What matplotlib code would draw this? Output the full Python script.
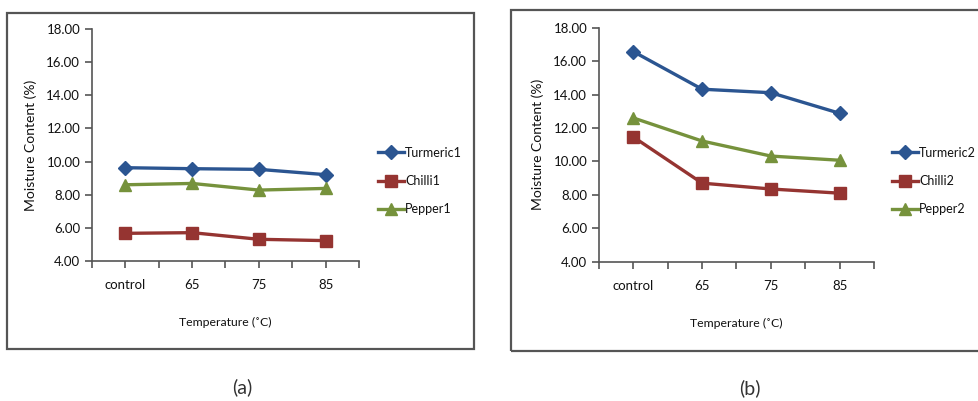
import matplotlib.pyplot as plt
import matplotlib.patches as patches

# --- data ---
categories = ["control", "65", "75", "85"]

turmeric1 = [9.63, 9.57, 9.53, 9.21]
chilli1 = [5.67, 5.71, 5.31, 5.23]
pepper1 = [8.60, 8.68, 8.28, 8.38]

turmeric2 = [16.57, 14.32, 14.11, 12.88]
chilli2 = [11.46, 8.70, 8.35, 8.10]
pepper2 = [12.60, 11.22, 10.32, 10.07]

yticks = [4, 6, 8, 10, 12, 14, 16, 18]

blue = "#2B5591"
red = "#953431"
green = "#76923C"
txt = "#111111"

plt.rcParams["font.family"] = ["Lato", "DejaVu Sans"]

W, H = 979, 401
fig = plt.figure(figsize=(W / 100, H / 100), dpi=100)


def px_axes(left, top, right, bottom):
    return fig.add_axes([left / W, 1 - bottom / H, (right - left) / W, (bottom - top) / H])


def draw_panel(ax, series, names, leg_x):
    x = range(len(categories))
    styles = [(blue, "D", 7), (red, "s", 8), (green, "^", 8.5)]
    for vals, name, (c, m, ms) in zip(series, names, styles):
        ax.plot(x, vals, color=c, lw=2.4, marker=m, ms=ms, mec=c, mfc=c, label=name)
    ax.set_xlim(-0.5, 3.5)
    ax.set_ylim(4, 18)
    ax.set_yticks(yticks)
    ax.set_yticklabels(["%.2f" % v for v in yticks])
    ax.set_xticks(list(x))
    ax.set_xticklabels(categories)
    ax.set_xticks([-0.5, 0.5, 1.5, 2.5, 3.5], minor=True)
    for s in ["top", "right"]:
        ax.spines[s].set_visible(False)
    for s in ["left", "bottom"]:
        ax.spines[s].set_color("#555555")
        ax.spines[s].set_linewidth(1.2)
    ax.tick_params(axis="both", which="both", direction="out", length=5,
                   color="#555555", width=1.2, labelsize=9.5, labelcolor=txt)
    ax.tick_params(axis="x", pad=8)
    ax.set_ylabel("Moisture Content (%)", fontsize=10, color=txt, labelpad=7)
    ax.set_xlabel("Temperature (˚C)", fontsize=8.8, color=txt, labelpad=19)
    ax.legend(loc="center left", bbox_to_anchor=(leg_x, 0.345), frameon=False,
              fontsize=9, handlelength=2.1, handletextpad=0.1, labelspacing=1.3,
              borderaxespad=0, borderpad=0, labelcolor=txt)


# --- panel (a) ---
ax1 = px_axes(92, 29, 359, 261)
draw_panel(ax1, [turmeric1, chilli1, pepper1], ["Turmeric1", "Chilli1", "Pepper1"], 1.07)

# --- panel (b) ---
ax2 = px_axes(599, 27.7, 874, 261.7)
draw_panel(ax2, [turmeric2, chilli2, pepper2], ["Turmeric2", "Chilli2", "Pepper2"], 1.065)

# frames around each chart
fig.patches.append(patches.Rectangle((7 / W, 1 - 349 / H), (474 - 7) / W, (349 - 13) / H,
                                     transform=fig.transFigure, fill=False,
                                     edgecolor="#555555", lw=1.6))
fig.patches.append(patches.Rectangle((511 / W, 1 - 351 / H), (990 - 511) / W, (351 - 10) / H,
                                     transform=fig.transFigure, fill=False,
                                     edgecolor="#555555", lw=1.6))

# captions
fig.text(242 / W, 1 - 387 / H, "(a)", ha="center", va="center", fontsize=14, color="#333333")
fig.text(750 / W, 1 - 388 / H, "(b)", ha="center", va="center", fontsize=14, color="#333333")

fig.savefig("out.png", dpi=100)
